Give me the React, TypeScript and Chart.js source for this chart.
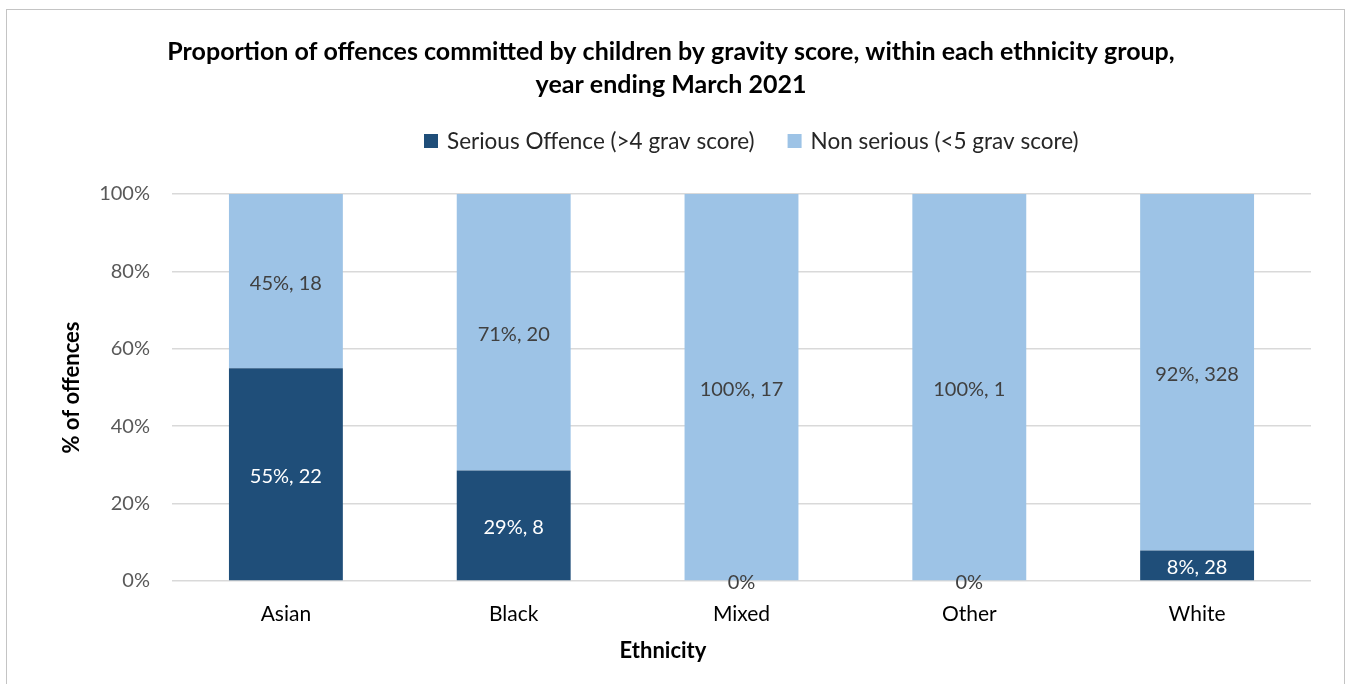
import React, { useEffect, useRef } from "react";
import { Chart, registerables } from "chart.js";

Chart.register(...registerables);

const categories = ["Asian", "Black", "Mixed", "Other", "White"];
const seriousCounts = [22, 8, 0, 0, 28];
const nonSeriousCounts = [18, 20, 17, 1, 328];
const yTickValues = [0, 20, 40, 60, 80, 100];
const titleLines = [
  "Proportion of offences committed by children by gravity score, within each ethnicity group,",
  "year ending March 2021",
];
const seriesNames = ["Serious Offence (>4 grav score)", "Non serious (<5 grav score)"];
const xAxisTitle = "Ethnicity";
const yAxisTitle = "% of offences";

const DARK = "#1F4E79";
const LIGHT = "#9DC3E6";
const FONT = "Lato, 'Open Sans', sans-serif";

const totals = seriousCounts.map((c, i) => c + nonSeriousCounts[i]);
const seriousPct = seriousCounts.map((c, i) => (c / totals[i]) * 100);
const nonSeriousPct = nonSeriousCounts.map((c, i) => (c / totals[i]) * 100);

const decorPlugin = {
  id: "decor",
  beforeDraw(chart: any) {
    const ctx = chart.ctx;
    ctx.save();
    ctx.fillStyle = "#fff";
    ctx.fillRect(0, 0, chart.width, chart.height);
    ctx.strokeStyle = "#C4C4C4";
    ctx.lineWidth = 1;
    ctx.strokeRect(6.5, 9.5, 1338, 700);
    ctx.restore();
  },
  afterDatasetsDraw(chart: any) {
    const ctx = chart.ctx;
    ctx.save();
    ctx.font = `20px ${FONT}`;
    ctx.textAlign = "center";
    ctx.textBaseline = "middle";
    const countsList = [seriousCounts, nonSeriousCounts];
    chart.data.datasets.forEach((ds: any, di: number) => {
      const meta = chart.getDatasetMeta(di);
      meta.data.forEach((bar: any, i: number) => {
        const v = ds.data[i];
        const cnt = countsList[di][i];
        let text: string;
        let y: number;
        if (cnt === 0) {
          text = "0%";
          y = bar.base + 2;
          ctx.fillStyle = "#404040";
        } else {
          text = `${Math.round(v)}%, ${cnt}`;
          y = (bar.y + bar.base) / 2 + 2;
          ctx.fillStyle = di === 0 ? "#FFFFFF" : "#404040";
        }
        ctx.fillText(text, bar.x, y);
      });
    });
    ctx.restore();
  },
  afterDraw(chart: any) {
    const ctx = chart.ctx;
    ctx.save();
    // legend
    ctx.font = `22.5px ${FONT}`;
    ctx.textBaseline = "middle";
    ctx.textAlign = "left";
    let x = 424;
    const ly = 141;
    const colors = [DARK, LIGHT];
    seriesNames.forEach((name, i) => {
      ctx.fillStyle = colors[i];
      ctx.fillRect(x, ly - 7, 14, 14);
      x += 14 + 9;
      ctx.fillStyle = "#262626";
      ctx.fillText(name, x, ly + 1);
      x += ctx.measureText(name).width + 33;
    });
    // x axis title
    ctx.font = `bold 22px ${FONT}`;
    ctx.textAlign = "center";
    ctx.fillStyle = "#000";
    ctx.fillText(xAxisTitle, 663, 651);
    ctx.restore();
  },
};

export default function App() {
  const ref = useRef<HTMLCanvasElement | null>(null);
  useEffect(() => {
    document.body.style.margin = "0";
    if (!ref.current) return;
    const chart = new Chart(ref.current, {
      type: "bar",
      data: {
        labels: categories,
        datasets: [
          { label: seriesNames[0], data: seriousPct, backgroundColor: DARK, categoryPercentage: 1, barPercentage: 0.5 },
          { label: seriesNames[1], data: nonSeriousPct, backgroundColor: LIGHT, categoryPercentage: 1, barPercentage: 0.5 },
        ],
      },
      options: {
        responsive: false,
        animation: false,
        layout: { padding: { left: 31, right: 38, top: 10, bottom: 10 } },
        plugins: {
          legend: { display: false },
          tooltip: { enabled: false },
          title: {
            display: true,
            text: titleLines,
            color: "#000",
            font: { family: FONT, size: 25, weight: "bold", lineHeight: 33 / 25 },
            padding: { top: 25.5, bottom: 92.5 },
          },
        },
        scales: {
          x: {
            stacked: true,
            grid: { display: false, drawTicks: false },
            border: { display: false },
            ticks: { color: "#000", font: { family: FONT, size: 21 }, padding: 21 },
            afterFit: (s: any) => {
              s.height = 93;
            },
          },
          y: {
            stacked: true,
            min: 0,
            max: 100,
            afterBuildTicks: (s: any) => {
              s.ticks = yTickValues.map((v) => ({ value: v }));
            },
            ticks: {
              color: "#595959",
              font: { family: FONT, size: 20 },
              padding: 22,
              callback: (v: any) => `${v}%`,
            },
            grid: { color: "#D9D9D9", lineWidth: 1.5, drawTicks: false },
            border: { display: false },
            title: {
              display: true,
              text: yAxisTitle,
              color: "#000",
              font: { family: FONT, size: 22, weight: "bold" },
              padding: { top: 27.8, bottom: 0 },
            },
            afterFit: (s: any) => {
              s.width = 141;
            },
          },
        },
      },
      plugins: [decorPlugin],
    } as any);
    return () => chart.destroy();
  }, []);
  return <canvas ref={ref} width={1349} height={684} style={{ display: "block" }} />;
}
